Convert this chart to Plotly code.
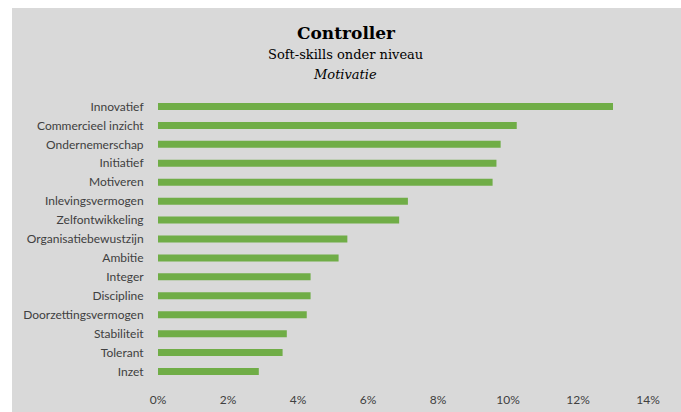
import plotly.graph_objects as go

categories = ["Innovatief", "Commercieel inzicht", "Ondernemerschap", "Initiatief", "Motiveren",
              "Inlevingsvermogen", "Zelfontwikkeling", "Organisatiebewustzijn", "Ambitie", "Integer",
              "Discipline", "Doorzettingsvermogen", "Stabiliteit", "Tolerant", "Inzet"]
values = [13.0, 10.25, 9.79, 9.67, 9.56, 7.14, 6.89, 5.41, 5.16, 4.36, 4.36, 4.25, 3.68, 3.56, 2.88]
x_ticks = [0, 2, 4, 6, 8, 10, 12, 14]
x_tick_labels = ["0%", "2%", "4%", "6%", "8%", "10%", "12%", "14%"]

W, H = 681, 412
L, R, T, B = 158, 33, 97, 31
pw, ph = W - L - R, H - T - B

fig = go.Figure(go.Bar(
    y=categories, x=values, orientation="h",
    marker=dict(color="#70ad47", line=dict(width=0)),
    hoverinfo="skip",
))

def px_to_paper_x(px):
    return (px - L) / pw

def py_to_paper_y(py):
    return (H - B - py) / ph

fig.update_layout(
    width=W, height=H,
    margin=dict(l=L, r=R, t=T, b=B, autoexpand=False),
    paper_bgcolor="#d9d9d9",
    plot_bgcolor="#d9d9d9",
    bargap=0.63,
    showlegend=False,
    font=dict(family="Lato, Carlito, sans-serif", size=12, color="#404040"),
    xaxis=dict(range=[0, 14], tickvals=x_ticks, ticktext=x_tick_labels,
               showgrid=False, zeroline=False, showline=False, automargin=False,
               ticks="outside", ticklen=8, tickcolor="rgba(0,0,0,0)",
               tickfont=dict(size=12, color="#404040"), fixedrange=True),
    yaxis=dict(autorange="reversed", showgrid=False, zeroline=False, showline=False, automargin=False,
               ticks="outside", ticklen=11, tickcolor="rgba(0,0,0,0)",
               tickfont=dict(size=12, color="#404040"), fixedrange=True),
    shapes=[
        dict(type="rect", xref="paper", yref="paper", layer="below",
             x0=px_to_paper_x(-5), x1=px_to_paper_x(12), y0=py_to_paper_y(H + 5), y1=py_to_paper_y(-5),
             fillcolor="white", line=dict(width=0)),
        dict(type="rect", xref="paper", yref="paper", layer="below",
             x0=px_to_paper_x(-5), x1=px_to_paper_x(W + 5), y0=py_to_paper_y(8), y1=py_to_paper_y(-5),
             fillcolor="white", line=dict(width=0)),
    ],
    annotations=[
        dict(text="<b>Controller</b>", xref="paper", yref="paper",
             x=px_to_paper_x(346), y=py_to_paper_y(33), xanchor="center", yanchor="middle",
             showarrow=False, font=dict(family="DejaVu Serif, serif", size=17, color="#000000")),
        dict(text="Soft-skills onder niveau", xref="paper", yref="paper",
             x=px_to_paper_x(345), y=py_to_paper_y(55), xanchor="center", yanchor="middle",
             showarrow=False, font=dict(family="DejaVu Serif, serif", size=13, color="#000000")),
        dict(text="<i>Motivatie</i>", xref="paper", yref="paper",
             x=px_to_paper_x(345), y=py_to_paper_y(74), xanchor="center", yanchor="middle",
             showarrow=False, font=dict(family="DejaVu Serif, serif", size=13, color="#000000")),
    ],
)

fig.write_html("out.html", config={"displayModeBar": False},
               post_script="document.body.style.margin='0';document.body.style.overflow='hidden';")
